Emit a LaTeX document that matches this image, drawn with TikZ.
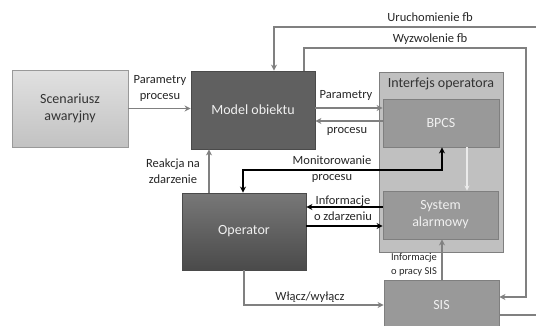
\documentclass[tikz,border=0pt]{standalone}
\usepackage{fontspec}
\setmainfont{Carlito}
\usetikzlibrary{arrows.meta}
\definecolor{lg}{HTML}{D4D4D4}
\definecolor{lgb}{HTML}{C2C2C2}
\definecolor{dk}{HTML}{606060}
\definecolor{dkb}{HTML}{4A4A4A}
\definecolor{mid}{HTML}{999999}
\definecolor{midb}{HTML}{7F7F7F}
\definecolor{ifc}{HTML}{C0C0C0}
\definecolor{ln}{HTML}{808080}
\definecolor{wtx}{HTML}{F0F0F0}
\tikzset{
  box/.style={rectangle, draw, line width=0.9pt, align=center, inner sep=0pt, font=\fontsize{14}{17}\selectfont},
  lbl/.style={align=center, inner sep=0pt, font=\fontsize{12.5}{16}\selectfont, text=black!85},
  slbl/.style={align=center, inner sep=0pt, font=\fontsize{10.5}{14}\selectfont, text=black!85},
  garrow/.style={draw=ln, line width=1.4pt, -{Stealth[length=6pt,width=6pt]}},
  barrow/.style={draw=black, line width=1.6pt, -{Stealth[length=6pt,width=6pt]}},
  gline/.style={draw=ln, line width=1.4pt},
  fbul/.style={draw=ln!60, line width=0.6pt, densely dotted}
}
\begin{document}
\begin{tikzpicture}[x=1pt,y=-1pt]
\useasboundingbox (0,0) rectangle (536,325);
\clip (0,0) rectangle (536,325);
% boxes
\node[box, draw=gray!80, top color=lg!70, bottom color=lgb, minimum width=116, minimum height=77, text=black!80] (scen) at (70,108.5) {Scenariusz\\awaryjny};
\node[box, draw=dkb, fill=dk, minimum width=124, minimum height=78, text=wtx] (model) at (253,110) {Model obiektu};
\node[box, draw=midb, fill=ifc, minimum width=124, minimum height=180] (iface) at (441,162) {};
\node[lbl, font=\fontsize{14}{17}\selectfont, text=black!80] (ifacet) at (441,84) {Interfejs operatora};
\node[box, draw=midb, fill=mid, minimum width=116, minimum height=48, text=wtx] (bpcs) at (441,123) {BPCS};
\node[box, draw=midb, fill=mid, minimum width=115, minimum height=48, text=wtx] (alarm) at (440.5,215) {System\\alarmowy};
\node[box, draw=dkb, top color=dk!85, bottom color=dkb, minimum width=124, minimum height=77, text=wtx] (oper) at (244,231.5) {Operator};
\node[box, draw=midb, fill=mid, minimum width=115, minimum height=50, text=wtx] (sis) at (441.5,305) {SIS};
% coordinates off the edge
\coordinate (ra) at (560,315);
\coordinate (rb) at (560,27);
% connectors
\draw[garrow] (scen.east) -- (scen.east -| model.west);
\draw[garrow] (model.east |- 0,108) -- (bpcs.west |- 0,108);
\draw[garrow] (bpcs.west |- 0,121) -- (model.east |- 0,121);
\draw[garrow] (sis.east |- 0,315) -- (ra) -- (rb) -- (274,27) -- (model.north -| 274,0);
\draw[garrow] (model.north -| 304,0) -- (304,48) -- (526,48) -- (526,297) -- (sis.east |- 0,297);
\draw[garrow] (oper.north -| 209,0) -- (model.south -| 209,0);
\draw[barrow, {Stealth[length=6pt,width=6pt]}-{Stealth[length=6pt,width=6pt]}] (bpcs.south -| 442,0) -- (442,170) -- (243,170) -- (oper.north -| 243,0);
\draw[draw=white!92!black, line width=1.2pt, -{Stealth[length=5pt,width=5pt]}] (bpcs.south -| 467,0) -- (alarm.north -| 467,0);
\draw[barrow] (alarm.west |- 0,207) -- (oper.east |- 0,207);
\draw[barrow] (oper.east |- 0,226) -- (alarm.west |- 0,226);
\draw[garrow] (sis.north -| 442,0) -- (alarm.south -| 442,0);
\draw[garrow] (oper.south -| 244,0) -- (244,305) -- (sis.west |- 0,305);
% labels
\node[lbl] (l1) at (160,88) {Parametry\\procesu};
\node[lbl] (l2) at (346,95) {Parametry};
\node[lbl] (l3) at (347,131) {procesu};
\node[lbl] (l4) at (173,171) {Reakcja na\\zdarzenie};
\node[lbl] (l5) at (332,169) {Monitorowanie\\procesu};
\node[lbl] (l6) at (343,208) {Informacje\\o zdarzeniu};
\node[slbl] (l7) at (414,265) {Informacje\\o pracy SIS};
\node[lbl] (l8) at (310,297) {Włącz/wyłącz};
\node[lbl] (l9) at (430,17) {Uruchomienie fb};
\node[lbl] (l10) at (430,39) {Wyzwolenie fb};
\end{tikzpicture}
\end{document}
